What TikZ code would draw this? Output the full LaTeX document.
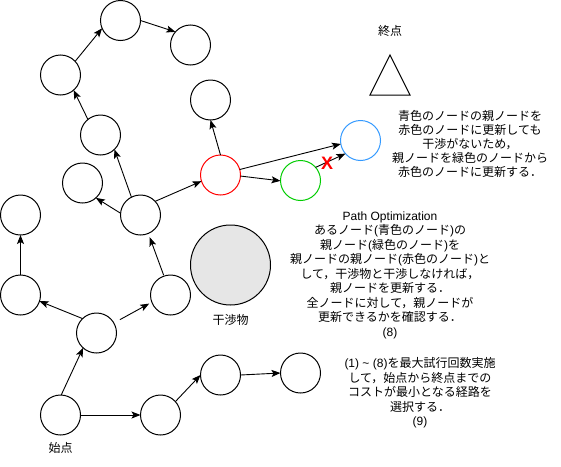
\documentclass[tikz,border=0pt]{standalone}
\usepackage{fontspec}
\setmainfont{Noto Sans CJK JP}
\newfontfamily\lsans{Liberation Sans}
\newcommand{\ls}[1]{{\lsans #1}}
\usetikzlibrary{arrows.meta}
\definecolor{nblue}{HTML}{3399FF}
\definecolor{ngreen}{HTML}{00CC00}
\definecolor{obst}{HTML}{E6E6E6}
\tikzset{
  nd/.style={circle, draw, line width=1pt, minimum size=40pt, inner sep=0pt, outer sep=0pt},
  arr/.style={-{Stealth[length=9pt,width=7pt,inset=2pt]}, line width=0.9pt},
  lbl/.style={font=\fontsize{12}{14.5}\selectfont, align=center, inner sep=0pt},
}
\begin{document}
\begin{tikzpicture}[x=1pt,y=-1pt]
\useasboundingbox (0,0) rectangle (561,466);
% nodes
\node[nd] (top) at (120.5,20.5) {};
\node[nd] (tr) at (190.5,45) {};
\node[nd] (lt) at (60.5,75) {};
\node[nd] (n1) at (100.5,135) {};
\node[nd] (up) at (210.5,100) {};
\node[nd, draw=red] (red) at (220.5,175) {};
\node[nd, draw=ngreen] (grn) at (300.5,180.5) {};
\node[nd, draw=nblue] (blu) at (360.5,140.5) {};
\node[nd] (n2) at (82.5,183) {};
\node[nd] (hub) at (140.5,215) {};
\node[nd] (fl) at (20.5,215) {};
\node[nd] (l2) at (20.5,295) {};
\node[nd] (r2) at (170.5,295) {};
\node[nd] (mid) at (96.5,333) {};
\node[nd] (st) at (60.5,415) {};
\node[nd] (b1) at (160.5,415) {};
\node[nd] (b2) at (220.5,375) {};
\node[nd] (b3) at (300.5,373) {};
\node[circle, draw, line width=1pt, fill=obst, minimum size=80pt, inner sep=0pt] (obs) at (230.5,265) {};
% edges
\draw[arr] (lt.43) -- (top.203);
\draw[arr] (top.0) -- (tr.139);
\draw[arr] (n1.129) -- (lt.311);
\draw[arr] (hub.117) -- (n1.314);
\draw[arr] (hub.175) -- (n2.312);
\draw[arr] (hub.43) -- (red.198);
\draw[arr] (red.90) -- (up.270);
\draw[arr] (red.16) -- (blu.190);
\draw[arr] (red.357) -- (grn.181);
\draw[arr] (grn.41) -- (blu.221);
\draw[arr] (mid.134) -- (l2.342);
\draw[arr] (l2.90) -- (fl.270);
\draw[arr, shorten <=7pt, shorten >=3pt] (mid.30) -- (r2.201);
\draw[arr, shorten <=1pt, shorten >=4pt] (r2.109) -- (hub.293);
\draw[arr] (st.88) -- (mid.228);
\draw[arr] (st.0) -- (b1.180);
\draw[arr] (b1.42) -- (b2.180);
\draw[arr] (b2.0) -- (b3.180);
% goal triangle
\draw[line width=1pt] (390,55) -- (370,95) -- (410,95) -- cycle;
% labels
\node[lbl] (goal) at (390,31) {終点};
\node[lbl] (start) at (60.5,448) {始点};
\node[lbl] (obsl) at (230.5,320) {干渉物};
\node[font=\lsans\bfseries\fontsize{18}{18}\selectfont, text=red, inner sep=0pt] (x) at (327,163) {X};
\node[lbl, font=\fontsize{12}{14}\selectfont] (t1) at (470,144) {青色のノードの親ノードを\\赤色のノードに更新しても\\干渉がないため，\\親ノードを緑色のノードから\\赤色のノードに更新する．};
\node[lbl] (t2) at (390,275) {\ls{Path Optimization}\\あるノード\ls{(}青色のノード\ls{)}の\\親ノード\ls{(}緑色のノード\ls{)}を\\親ノードの親ノード\ls{(}赤色のノード\ls{)}と\\して，干渉物と干渉しなければ，\\親ノードを更新する．\\全ノードに対して，親ノードが\\更新できるかを確認する．\\\ls{(8)}};
\node[lbl] (t3) at (420,393) {\ls{(1) \textasciitilde\ (8)}を最大試行回数実施\\して，始点から終点までの\\コストが最小となる経路を\\選択する．\\\ls{(9)}};
\end{tikzpicture}
\end{document}
